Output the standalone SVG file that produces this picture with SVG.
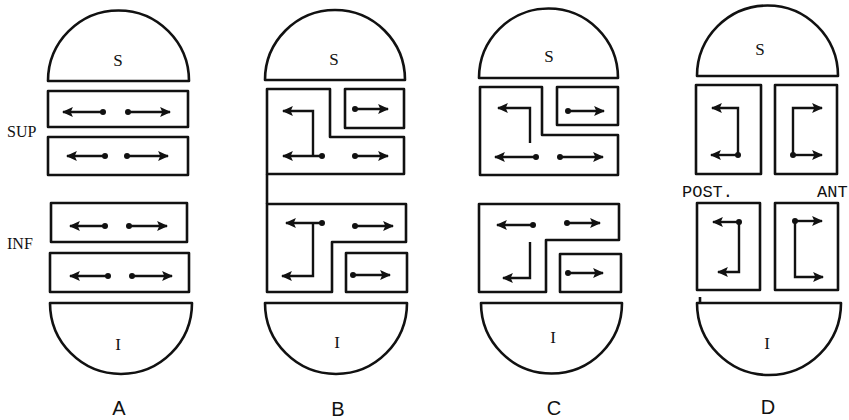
<svg xmlns="http://www.w3.org/2000/svg" width="849" height="420" viewBox="0 0 849 420">
<style>
.sh{fill:none;stroke:#111;stroke-width:2.6;stroke-linejoin:round}
.ar{fill:none;stroke:#111;stroke-width:2.4;marker-end:url(#ah)}
.dt{fill:#111}
.lb{font-family:"Liberation Serif",serif;font-size:17px;fill:#111;text-anchor:middle}
.sd{font-family:"Liberation Serif",serif;font-size:16px;fill:#111}
.mn{font-family:"Liberation Mono",monospace;font-size:17px;fill:#111}
.pl{font-family:"Liberation Sans",sans-serif;font-size:20px;fill:#111;text-anchor:middle}
</style>
<defs>
<marker id="ah" markerUnits="userSpaceOnUse" markerWidth="11" markerHeight="11" viewBox="0 0 10 10" refX="9" refY="5" orient="auto">
<path d="M0,0.5 L10,5 L0,9.5 L2,5 Z" fill="#111"/>
</marker>
</defs>
<rect width="849" height="420" fill="#fff"/>

<!-- Panel A -->
<g id="A-S"><path class="sh" d="M48,81 A70.5,70.5 0 0 1 189,81 Z"/><text class="lb" x="118" y="66">S</text></g>
<g id="A-sup1"><rect class="sh" x="48" y="91" width="140" height="36"/></g>
<g id="A-sup2"><rect class="sh" x="48" y="137" width="140" height="38"/></g>
<g id="A-inf1"><rect class="sh" x="51" y="203" width="136" height="39"/></g>
<g id="A-inf2"><rect class="sh" x="50" y="253" width="139" height="39"/></g>
<g id="A-I"><path class="sh" d="M50,303 A71,71 0 0 0 192,303 Z"/><text class="lb" x="118" y="350">I</text></g>
<text class="sd" x="7" y="137">SUP</text>
<text class="sd" x="7" y="249">INF</text>
<text class="pl" x="119" y="415">A</text>

<!-- Panel B -->
<g id="B-S"><path class="sh" d="M265,80 A70,70 0 0 1 405,80 Z"/><text class="lb" x="334" y="65">S</text></g>
<g id="B-top"><path class="sh" d="M267,89 L330,89 L330,137 L404,137 L404,174 L267,174 Z"/></g>
<g id="B-top-small"><rect class="sh" x="345" y="89" width="59" height="39"/></g>
<g id="B-bot"><path class="sh" d="M267,204 L406,204 L406,242 L332,242 L332,292 L267,292 Z"/></g>
<g id="B-bot-small"><rect class="sh" x="346" y="253" width="61" height="39"/></g>
<g id="B-wall"><path class="sh" d="M267,174 L267,204"/></g>
<g id="B-I"><path class="sh" d="M265,303 A71,71 0 0 0 407,303 Z"/><text class="lb" x="337" y="348">I</text></g>
<text class="pl" x="338" y="416">B</text>

<!-- Panel C -->
<g id="C-S"><path class="sh" d="M479,78 A69.5,69.5 0 0 1 618,78 Z"/><text class="lb" x="549" y="62">S</text></g>
<g id="C-top"><path class="sh" d="M480,87 L542,87 L542,135 L618,135 L618,175 L480,175 Z"/></g>
<g id="C-top-small"><rect class="sh" x="557" y="87" width="61" height="38"/></g>
<g id="C-bot"><path class="sh" d="M479,204 L619,204 L619,240 L546,240 L546,292 L479,292 Z"/></g>
<g id="C-bot-small"><rect class="sh" x="560" y="254" width="61" height="38"/></g>
<g id="C-I"><path class="sh" d="M481,303 A70.5,70.5 0 0 0 622,303 Z"/><text class="lb" x="553" y="343">I</text></g>
<text class="pl" x="554" y="415">C</text>

<!-- Panel D -->
<g id="D-S"><path class="sh" d="M697,76 A70.5,70.5 0 0 1 838,76 Z"/><text class="lb" x="760" y="55">S</text></g>
<g id="D-post-sup"><rect class="sh" x="696" y="85" width="65" height="89"/></g>
<g id="D-ant-sup"><rect class="sh" x="775" y="85" width="62" height="89"/></g>
<g id="D-post-inf"><rect class="sh" x="697" y="203" width="63" height="87"/></g>
<g id="D-ant-inf"><rect class="sh" x="775" y="203" width="63" height="87"/></g>
<g id="D-I"><path class="sh" d="M697,303 A72,72 0 0 0 841,303 Z"/><path class="sh" d="M700,297 L700,304"/><text class="lb" x="767" y="349">I</text></g>
<text class="mn" x="682" y="197">POST.</text>
<text class="mn" x="817" y="197">ANT</text>
<text class="pl" x="768" y="414">D</text>

<!-- Connectors -->
<g id="connectors">
<path class="ar" d="M103,112 L63,112"/><circle class="dt" cx="103" cy="112" r="3"/>
<path class="ar" d="M128,112 L170,112"/><circle class="dt" cx="128" cy="112" r="3"/>
<path class="ar" d="M105,156 L67,156"/><circle class="dt" cx="105" cy="156" r="3"/>
<path class="ar" d="M127,156 L168,156"/><circle class="dt" cx="127" cy="156" r="3"/>
<path class="ar" d="M105,226 L70,226"/><circle class="dt" cx="105" cy="226" r="3"/>
<path class="ar" d="M129,226 L167,226"/><circle class="dt" cx="129" cy="226" r="3"/>
<path class="ar" d="M108,276 L70,276"/><circle class="dt" cx="108" cy="276" r="3"/>
<path class="ar" d="M132,276 L172,276"/><circle class="dt" cx="132" cy="276" r="3"/>

<path class="ar" d="M355,109 L388,109"/><circle class="dt" cx="355" cy="109" r="3"/>
<path class="ar" d="M313,156 L313,111 L283,111"/>
<path class="ar" d="M322,156 L283,156"/><circle class="dt" cx="322" cy="156" r="3"/>
<path class="ar" d="M355,156 L388,156"/><circle class="dt" cx="355" cy="156" r="3"/>
<path class="ar" d="M322,223 L286,223"/><circle class="dt" cx="322" cy="223" r="3"/>
<path class="ar" d="M313,223 L313,276 L282,276"/>
<path class="ar" d="M355,226 L393,226"/><circle class="dt" cx="355" cy="226" r="3"/>
<path class="ar" d="M353,275 L390,275"/><circle class="dt" cx="353" cy="275" r="3"/>

<path class="ar" d="M568,111 L604,111"/><circle class="dt" cx="568" cy="111" r="3"/>
<path class="ar" d="M530,143 L530,108 L498,108"/>
<path class="ar" d="M536,157 L495,157"/><circle class="dt" cx="536" cy="157" r="3"/>
<path class="ar" d="M560,157 L603,157"/><circle class="dt" cx="560" cy="157" r="3"/>
<path class="ar" d="M533,225 L497,225"/><circle class="dt" cx="533" cy="225" r="3"/>
<path class="ar" d="M530,242 L530,278 L503,278"/>
<path class="ar" d="M567,223 L600,223"/><circle class="dt" cx="567" cy="223" r="3"/>
<path class="ar" d="M568,273 L603,273"/><circle class="dt" cx="568" cy="273" r="3"/>

<path class="ar" d="M738,155 L738,108 L712,108"/>
<path class="ar" d="M738,155 L711,155"/><circle class="dt" cx="738" cy="155" r="3"/>
<path class="ar" d="M793,155 L793,108 L822,108"/>
<path class="ar" d="M793,155 L822,155"/><circle class="dt" cx="793" cy="155" r="3"/>
<path class="ar" d="M739,222 L713,222"/><circle class="dt" cx="739" cy="222" r="3"/>
<path class="ar" d="M739,222 L739,272 L718,272"/>
<path class="ar" d="M795,221 L822,221"/><circle class="dt" cx="795" cy="221" r="3"/>
<path class="ar" d="M795,221 L795,277 L823,277"/>
</g>
</svg>
